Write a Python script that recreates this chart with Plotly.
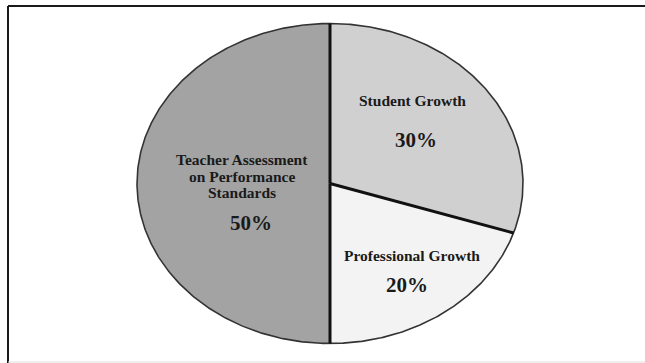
import numpy as np
import plotly.graph_objects as go

# ---- data ----
categories = ["Student Growth", "Professional Growth",
              "Teacher Assessment on Performance Standards"]
label_lines = [["Student Growth"], ["Professional Growth"],
               ["Teacher Assessment", "on Performance", "Standards"]]
values = [30, 20, 50]

# ---- styles / label placement (data units of the ellipse) ----
colors = ["#d0d0d0", "#f3f3f3", "#a3a3a3"]
label_x = [0.430, 0.425, -0.456]
label_y0 = [0.516, -0.447, 0.147]     # first line centre
line_step = 0.103
pct_x = [0.446, 0.399, -0.409]
pct_y = [0.272, -0.634, -0.247]

W, H = 645, 363
CX, CY, RX, RY = 330, 183.5, 193, 160   # pixel geometry of ellipse

fig = go.Figure()
total = sum(values)
cum = np.concatenate([[0], np.cumsum(values)]) / total * 2 * np.pi

for i, cat in enumerate(categories):
    th = np.linspace(cum[i], cum[i + 1], 300)
    xs = np.concatenate([[0], np.sin(th), [0]])
    ys = np.concatenate([[0], np.cos(th), [0]])
    fig.add_trace(go.Scatter(x=xs, y=ys, fill="toself", fillcolor=colors[i],
                             mode="lines", line=dict(width=0, color=colors[i]),
                             name=cat, hoverinfo="name", showlegend=False))

# outer outline
th = np.linspace(0, 2 * np.pi, 600)
fig.add_trace(go.Scatter(x=np.sin(th), y=np.cos(th), mode="lines",
                         line=dict(color="#333333", width=1.6),
                         hoverinfo="skip", showlegend=False))

# radial dividers
rx, ry = [], []
for b in cum[:-1]:
    rx += [0, np.sin(b), None]
    ry += [0, np.cos(b), None]
fig.add_trace(go.Scatter(x=rx, y=ry, mode="lines",
                         line=dict(color="#111111", width=3),
                         hoverinfo="skip", showlegend=False))

annotations = []
font_lbl = dict(family="Liberation Serif, Times New Roman, serif", size=15.5, color="#1a1a1a")
font_pct = dict(family="Liberation Serif, Times New Roman, serif", size=21, color="#1a1a1a")
for i, v in enumerate(values):
    for j, ln in enumerate(label_lines[i]):
        annotations.append(dict(x=label_x[i], y=label_y0[i] - j * line_step,
                                xref="x", yref="y", text="<b>%s</b>" % ln,
                                showarrow=False, font=font_lbl,
                                xanchor="center", yanchor="middle"))
    annotations.append(dict(x=pct_x[i], y=pct_y[i], xref="x", yref="y",
                            text="<b>%d%%</b>" % round(v / total * 100),
                            showarrow=False, font=font_pct,
                            xanchor="center", yanchor="middle"))

def px(xp):
    return xp / W

def py(yp):
    return 1 - yp / H

shapes = [
    dict(type="line", xref="paper", yref="paper", x0=px(8), x1=1, y0=py(6), y1=py(6),
         line=dict(color="#1a1a1a", width=2)),
    dict(type="line", xref="paper", yref="paper", x0=px(8), x1=px(8), y0=py(6), y1=0,
         line=dict(color="#1a1a1a", width=2)),
    dict(type="line", xref="paper", yref="paper", x0=px(8), x1=1, y0=py(362), y1=py(362),
         line=dict(color="#dddddd", width=1)),
]

fig.update_layout(
    width=W, height=H, margin=dict(l=0, r=0, t=0, b=0),
    paper_bgcolor="white", plot_bgcolor="white",
    xaxis=dict(range=[-CX / RX, (W - CX) / RX], visible=False, fixedrange=True),
    yaxis=dict(range=[(CY - H) / RY, CY / RY], visible=False, fixedrange=True),
    annotations=annotations, shapes=shapes, showlegend=False,
)

fig.write_html("out.html")
